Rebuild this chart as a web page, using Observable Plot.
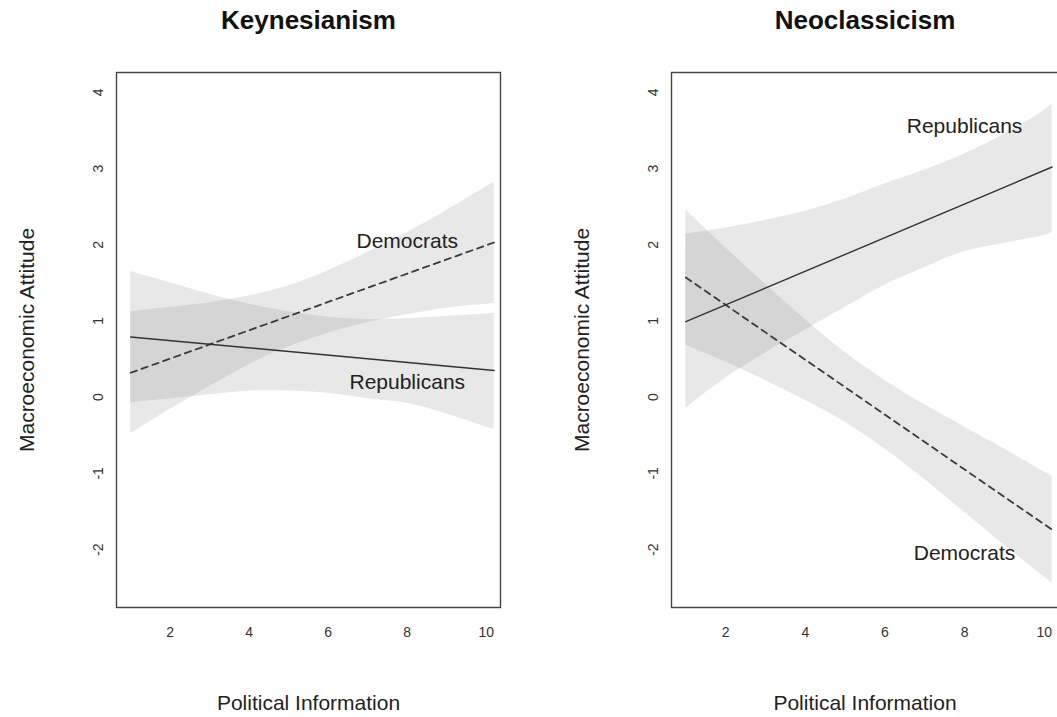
<!DOCTYPE html>
<html>
<head>
<meta charset="utf-8">
<script src="https://cdn.jsdelivr.net/npm/d3@7"></script>
<script src="https://cdn.jsdelivr.net/npm/@observablehq/plot@0.6"></script>
<style>
  html, body { margin: 0; padding: 0; background: #fff; overflow: hidden; }
  #figure { position: relative; width: 1057px; height: 717px; }
  #figure svg { position: absolute; top: 0; }
</style>
</head>
<body>
<div id="figure"></div>
<script>
// Political information scale where predictions are evaluated
const info = [1, 2, 3, 4, 5, 6, 7, 8, 9, 10, 10.2];
const lineInfo = [1, 10.2];

// Keynesianism: predicted attitude with confidence bands
const keyDemLine = [0.32, 2.03];
const keyRepLine = [0.79, 0.35];
const keyDemLo = [-0.48, -0.16, 0.14, 0.43, 0.66, 0.84, 0.98, 1.08, 1.17, 1.22, 1.23];
const keyDemHi = [1.12, 1.18, 1.24, 1.33, 1.46, 1.66, 1.90, 2.16, 2.45, 2.76, 2.82];
const keyRepLo = [-0.07, -0.02, 0.03, 0.08, 0.08, 0.05, -0.02, -0.08, -0.22, -0.39, -0.42];
const keyRepHi = [1.65, 1.50, 1.35, 1.22, 1.12, 1.05, 1.02, 1.03, 1.06, 1.09, 1.10];

// Neoclassicism: predicted attitude with confidence bands
const neoDemLine = [1.57, -1.74];
const neoRepLine = [0.99, 3.02];
const neoDemLo = [0.68, 0.46, 0.22, -0.04, -0.33, -0.68, -1.08, -1.51, -1.94, -2.36, -2.44];
const neoDemHi = [2.46, 1.96, 1.48, 1.02, 0.59, 0.22, -0.10, -0.39, -0.68, -0.98, -1.04];
const neoRepLo = [-0.15, 0.25, 0.58, 0.88, 1.18, 1.47, 1.70, 1.91, 2.02, 2.12, 2.16];
const neoRepHi = [2.14, 2.22, 2.32, 2.44, 2.60, 2.80, 2.98, 3.19, 3.45, 3.76, 3.85];

// Axis ticks and text
const xTicks = [2, 4, 6, 8, 10];
const yTicks = [-2, -1, 0, 1, 2, 3, 4];
const panelTitles = ["Keynesianism", "Neoclassicism"];
const xTitle = "Political Information";
const yTitle = "Macroeconomic Attitude";
const seriesNames = ["Democrats", "Republicans"];
// Where each group name is written: [x, y] per panel
const keyLabelPos = [[8, 2.05], [8, 0.2]];
const neoLabelPos = [[8, -2.05], [8, 3.55]];

const band = (lo, hi) => info.map((x, i) => ({x, lo: lo[i], hi: hi[i]}));
const line = (ys) => lineInfo.map((x, i) => ({x, y: ys[i]}));

function panel({title, demLine, repLine, demLo, demHi, repLo, repHi, labelPos, width, marginLeft, marginRight}) {
  const labels = seriesNames.map((name, i) => ({name, x: labelPos[i][0], y: labelPos[i][1]}));
  const bandStyle = {x: "x", y1: "lo", y2: "hi", fill: "#7b7b7b", fillOpacity: 0.175, curve: "catmull-rom"};
  return Plot.plot({
    width,
    height: 717,
    marginTop: 72,
    marginBottom: 110,
    marginLeft,
    marginRight,
    style: {fontFamily: "'Liberation Sans', Arial, Helvetica, sans-serif", background: "transparent", color: "#333"},
    x: {domain: [0.64, 10.36]},
    y: {domain: [-2.76, 4.26]},
    marks: [
      Plot.areaY(band(demLo, demHi), bandStyle),
      Plot.areaY(band(repLo, repHi), bandStyle),
      Plot.line(line(demLine), {x: "x", y: "y", stroke: "#3a3a3a", strokeWidth: 1.8, strokeDasharray: "6.5,5"}),
      Plot.line(line(repLine), {x: "x", y: "y", stroke: "#333", strokeWidth: 1.4}),
      Plot.text(labels, {x: "x", y: "y", text: "name", fontSize: 21, fill: "#222"}),
      Plot.frame({stroke: "#444", strokeWidth: 1.4}),
      Plot.axisX({ticks: xTicks, tickSize: 0, tickPadding: 20, fontSize: 14, label: null, tickFormat: d => String(d)}),
      Plot.axisY({ticks: yTicks, tickSize: 0, tickRotate: -90, tickPadding: 14, fontSize: 14, label: null, tickFormat: d => String(d)}),
      Plot.text([title], {frameAnchor: "top", dy: -43.5, lineAnchor: "bottom", fontSize: 26, fontWeight: "bold", fill: "#111"}),
      Plot.text([xTitle], {frameAnchor: "bottom", dy: 102, lineAnchor: "bottom", fontSize: 21, fill: "#222"}),
      Plot.text([yTitle], {frameAnchor: "left", dx: -83, rotate: -90, textAnchor: "middle", lineAnchor: "bottom", fontSize: 21, fill: "#222"})
    ]
  });
}

const fig = document.getElementById("figure");

const left = panel({
  title: panelTitles[0], demLine: keyDemLine, repLine: keyRepLine,
  demLo: keyDemLo, demHi: keyDemHi, repLo: keyRepLo, repHi: keyRepHi,
  labelPos: keyLabelPos, width: 528, marginLeft: 116, marginRight: 28
});
left.style.left = "0px";
fig.appendChild(left);

const right = panel({
  title: panelTitles[1], demLine: neoDemLine, repLine: neoRepLine,
  demLo: neoDemLo, demHi: neoDemHi, repLo: neoRepLo, repHi: neoRepHi,
  labelPos: neoLabelPos, width: 531, marginLeft: 143, marginRight: 1
});
right.style.left = "528px";
fig.appendChild(right);
</script>
</body>
</html>
